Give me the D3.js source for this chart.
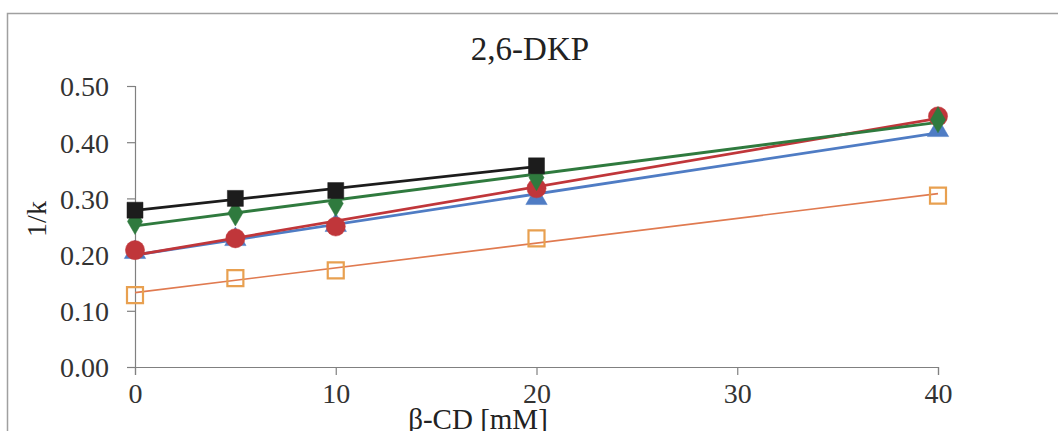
<!DOCTYPE html>
<html>
<head>
<meta charset="utf-8">
<script src="https://cdn.jsdelivr.net/npm/d3@7"></script>
<style>
    body { margin: 0; background: #fff; }
    svg { display: block; font-family: "Liberation Serif", "Times New Roman", serif; }
</style>
</head>
<body>
<svg id="chart"></svg>
<script>
// concentrations of beta-CD (mM)
const conc = [0, 5, 10, 20, 40];
const xTicks = [0, 10, 20, 30, 40];
const yTicks = [0, 0.1, 0.2, 0.3, 0.4, 0.5];

// 1/k values for each series (null = no point)
const blackSquares = [0.279, 0.300, 0.314, 0.358, null];
const greenDiamonds = [0.259, 0.274, 0.291, 0.337, 0.440];
const redCircles = [0.208, 0.229, 0.250, 0.318, 0.446];
const blueTriangles = [0.204, 0.227, 0.252, 0.300, 0.421];
const orangeSquares = [0.128, 0.158, 0.172, 0.229, 0.305];

const series = [
    { name: 'orange', values: orangeSquares, line: '#e07a50', stroke: '#e8a050', fill: 'none', symbol: 'square', size: 16, lw: 1.7 },
    { name: 'blue', values: blueTriangles, line: '#4f7cc4', stroke: '#4f7cc4', fill: '#4f7cc4', symbol: 'triangle', size: 19, lw: 2.8 },
    { name: 'red', values: redCircles, line: '#c0363a', stroke: '#c0363a', fill: '#c0363a', symbol: 'circle', size: 19, lw: 2.8 },
    { name: 'green', values: greenDiamonds, line: '#2f7a3e', stroke: '#2f7a3e', fill: '#2f7a3e', symbol: 'diamond', size: 14, lw: 2.8 },
    { name: 'black', values: blackSquares, line: '#1c1c1c', stroke: '#1c1c1c', fill: '#1c1c1c', symbol: 'square', size: 16, lw: 2.8 }
];

const width = 1058, height = 431;
const margin = { top: 86, right: 120, bottom: 64, left: 135 };
const plotW = width - margin.left - margin.right;
const plotH = height - margin.top - margin.bottom;

const svg = d3.select('#chart')
    .attr('width', width)
    .attr('height', height);

// outer frame (top and left edges visible)
svg.append('path')
    .attr('d', `M7.5,${height} V13.5 H${width}`)
    .attr('fill', 'none')
    .attr('stroke', '#a0a0a0')
    .attr('stroke-width', 1.5);

const x = d3.scaleLinear().domain([0, 40]).range([0, plotW]);
const y = d3.scaleLinear().domain([0, 0.5]).range([plotH, 0]);

const chart = svg.append('g')
    .attr('transform', `translate(${margin.left}, ${margin.top})`);

// axes
const xAxis = d3.axisBottom(x).tickValues(xTicks).tickSize(8).tickPadding(8).tickFormat(d3.format('d'));
const yAxis = d3.axisLeft(y).tickValues(yTicks).tickSize(8).tickPadding(18).tickFormat(d3.format('.2f'));

const gx = chart.append('g')
    .attr('transform', `translate(0, ${plotH})`)
    .call(xAxis);
const gy = chart.append('g').call(yAxis);

[gx, gy].forEach(g => {
    g.select('.domain').attr('stroke', '#808080').attr('stroke-width', 1.2);
    g.selectAll('.tick line').attr('stroke', '#808080').attr('stroke-width', 1.2);
    g.selectAll('.tick text')
        .attr('fill', '#333')
        .style('font-family', '"Liberation Serif", serif')
        .style('font-size', '28px');
});
gy.selectAll('.tick text').attr('dy', '0.35em');

// linear trendline per series
function fit(vals) {
    const pts = conc.map((c, i) => [c, vals[i]]).filter(p => p[1] != null);
    const mx = d3.mean(pts, p => p[0]), my = d3.mean(pts, p => p[1]);
    const b = d3.sum(pts, p => (p[0] - mx) * (p[1] - my)) / d3.sum(pts, p => (p[0] - mx) ** 2);
    const a = my - b * mx;
    const x0 = d3.min(pts, p => p[0]), x1 = d3.max(pts, p => p[0]);
    return [[x0, a + b * x0], [x1, a + b * x1]];
}

const symbolType = {
    square: d3.symbolSquare,
    triangle: d3.symbolTriangle,
    circle: d3.symbolCircle,
    diamond: d3.symbolDiamond
};

const line = d3.line().x(d => x(d[0])).y(d => y(d[1]));

series.forEach(s => {
    chart.append('path')
        .datum(fit(s.values))
        .attr('d', line)
        .attr('fill', 'none')
        .attr('stroke', s.line)
        .attr('stroke-width', s.lw);
});

series.forEach(s => {
    const pts = conc.map((c, i) => ({ c: c, v: s.values[i] })).filter(d => d.v != null);
    const sym = d3.symbol().type(symbolType[s.symbol]).size(s.size * s.size * (s.symbol === 'circle' ? 0.8 : s.symbol === 'triangle' ? 0.55 : 1));
    chart.selectAll(null)
        .data(pts)
        .enter()
        .append('path')
        .attr('d', sym)
        .attr('transform', d => `translate(${x(d.c)}, ${y(d.v)})`)
        .attr('fill', s.fill)
        .attr('stroke', s.stroke)
        .attr('stroke-width', s.fill === 'none' ? 2.2 : 0.5);
});

// titles
svg.append('text')
    .attr('x', 530)
    .attr('y', 60)
    .attr('text-anchor', 'middle')
    .style('font-size', '33px')
    .attr('fill', '#222')
    .text('2,6-DKP');

svg.append('text')
    .attr('x', 478)
    .attr('y', 429)
    .attr('text-anchor', 'middle')
    .style('font-size', '29px')
    .attr('fill', '#222')
    .text('β-CD [mM]');

svg.append('text')
    .attr('transform', 'translate(46, 219) rotate(-90)')
    .attr('text-anchor', 'middle')
    .style('font-size', '28px')
    .attr('fill', '#222')
    .text('1/k');
</script>
</body>
</html>
